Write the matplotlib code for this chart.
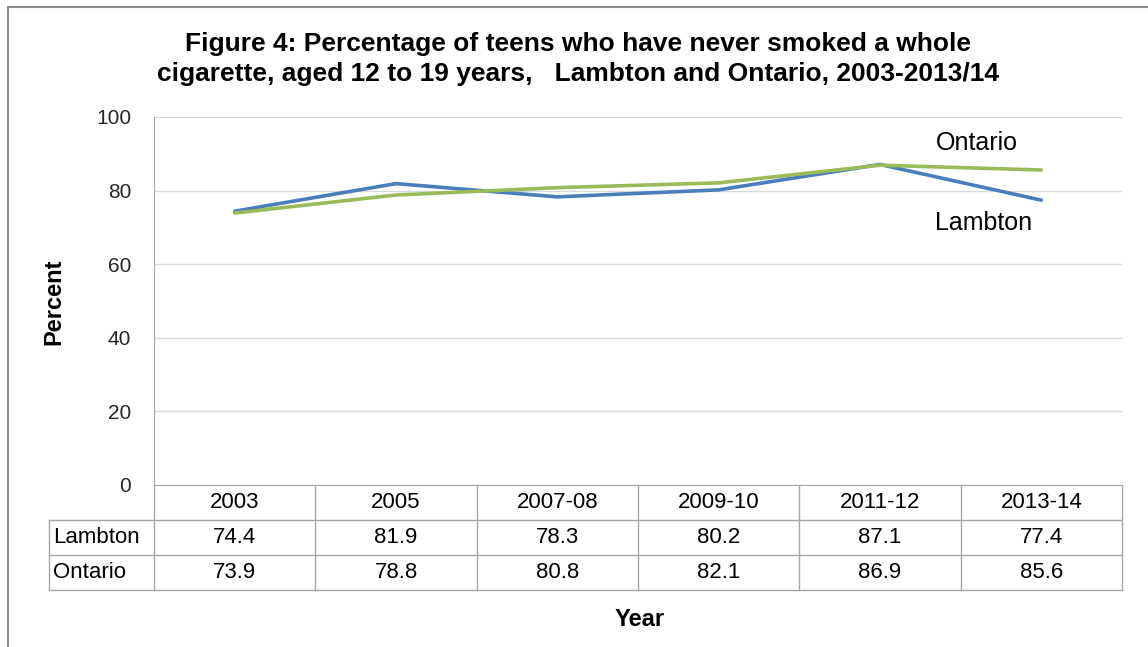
import matplotlib.pyplot as plt
from matplotlib.transforms import blended_transform_factory
from matplotlib.patches import Rectangle

plt.rcParams['font.family'] = ['Liberation Sans', 'DejaVu Sans']

years = ['2003', '2005', '2007-08', '2009-10', '2011-12', '2013-14']
lambton = [74.4, 81.9, 78.3, 80.2, 87.1, 77.4]
ontario = [73.9, 78.8, 80.8, 82.1, 86.9, 85.6]
series_names = ['Lambton', 'Ontario']

blue = '#4A7EBB'
green = '#9BBB59'
grid_col = '#D9D9D9'
border_col = '#A6A6A6'

W, H = 1148, 647
fig = plt.figure(figsize=(W / 100, H / 100), dpi=100)

# outer frame of the chart object
fig.patches.append(Rectangle((8 / W, -0.1), 1.2, 1 - 7 / H + 0.1, transform=fig.transFigure,
                             fill=False, edgecolor='#8C8C8C', linewidth=1.5))

left, right, top, bottom = 154, 1122, 117, 485
ax = fig.add_axes([left / W, 1 - bottom / H, (right - left) / W, (bottom - top) / H])

x = list(range(len(years)))
ax.plot(x, lambton, color=blue, linewidth=2.6, solid_capstyle='round', zorder=3)
ax.plot(x, ontario, color=green, linewidth=2.6, solid_capstyle='round', zorder=3)

ax.set_xlim(-0.5, len(years) - 0.5)
ax.set_ylim(0, 100)
ax.set_yticks([0, 20, 40, 60, 80, 100])
ax.yaxis.grid(True, color=grid_col, linewidth=1)
ax.set_axisbelow(True)
ax.set_xticks([])
ax.tick_params(axis='y', length=0, pad=16.5, labelsize=15, labelcolor='#262626')
for s in ['top', 'right']:
    ax.spines[s].set_visible(False)
ax.spines['left'].set_color(border_col)
ax.spines['bottom'].set_color(border_col)

# series labels
ax.text(4.60, 92.9, 'Ontario', fontsize=18, ha='center', va='center')
ax.text(4.64, 71.2, 'Lambton', fontsize=18, ha='center', va='center')

# data table under the axis
tr = blended_transform_factory(ax.transData, ax.transAxes)
row_h = 35 / (bottom - top)
lab_left = -0.5 - (left - 49) / ((right - left) / len(years))
n = len(years)
kw = dict(transform=tr, clip_on=False, color=border_col, linewidth=1)
# horizontal lines
for r in range(1, 4):
    ax.plot([lab_left, n - 0.5], [-r * row_h, -r * row_h], **kw)
# vertical lines
for i in range(n + 1):
    ax.plot([i - 0.5, i - 0.5], [0, -3 * row_h], **kw)
ax.plot([lab_left, lab_left], [-row_h, -3 * row_h], **kw)

fs = 16
for i, yr in enumerate(years):
    ax.text(i, -0.5 * row_h, yr, transform=tr, ha='center', va='center', fontsize=fs)
    ax.text(i, -1.5 * row_h, f'{lambton[i]:.1f}', transform=tr, ha='center', va='center', fontsize=fs)
    ax.text(i, -2.5 * row_h, f'{ontario[i]:.1f}', transform=tr, ha='center', va='center', fontsize=fs)
for r, name in enumerate(series_names):
    ax.text(lab_left + 0.025, -(r + 1.5) * row_h, name, transform=tr, ha='left', va='center', fontsize=fs)

fig.text(54 / W, 1 - 302 / H, 'Percent', rotation=90, fontsize=17, fontweight='bold',
         ha='center', va='center')
fig.text(640 / W, 1 - 620 / H, 'Year', fontsize=17, fontweight='bold', ha='center', va='center')

fig.text(578 / W, 1 - 59 / H,
         'Figure 4: Percentage of teens who have never smoked a whole\n'
         'cigarette, aged 12 to 19 years,   Lambton and Ontario, 2003-2013/14',
         fontsize=19, fontweight='bold', ha='center', va='center', linespacing=1.3)

fig.savefig('out.png', dpi=100)
